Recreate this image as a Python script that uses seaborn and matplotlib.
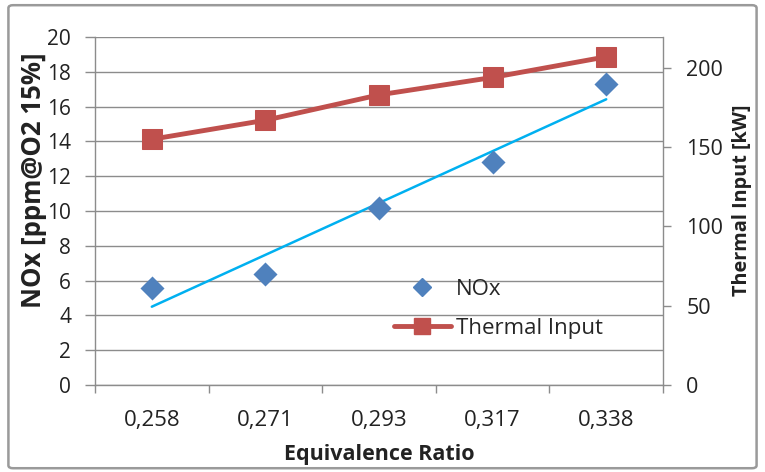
import numpy as np
import pandas as pd
import matplotlib
matplotlib.use("Agg")
import matplotlib.pyplot as plt
from matplotlib.patches import FancyBboxPatch
from matplotlib.lines import Line2D
import seaborn as sns

# Measured data
equivalence_ratio = ["0,258", "0,271", "0,293", "0,317", "0,338"]
nox_ppm = [5.6, 6.4, 10.2, 12.8, 17.3]
thermal_input_kw = [155, 167, 183, 194, 207]
left_ticks = [0, 2, 4, 6, 8, 10, 12, 14, 16, 18, 20]
right_ticks = [0, 50, 100, 150, 200]

sns.set_theme(style="white")
plt.rcParams["font.family"] = ["Open Sans", "DejaVu Sans"]

NOX_BLUE = "#4F81BD"
THERMAL_RED = "#C0504D"
TREND_CYAN = "#00B0F0"
GRID = "#8C8C8C"
TEXT = "#222222"

df = pd.DataFrame({
    "pos": np.arange(len(equivalence_ratio)),
    "ratio": equivalence_ratio,
    "nox": nox_ppm,
    "thermal": thermal_input_kw,
})

fig = plt.figure(figsize=(7.65, 4.72), dpi=100)
ax = fig.add_axes([0.1242, 0.1843, 0.7425, 0.7373])
ax2 = ax.twinx()

# Outer chart frame
frame = FancyBboxPatch((0.011, 0.008), 0.978, 0.981, boxstyle="round,pad=0,rounding_size=0.006",
                       transform=fig.transFigure, fill=False, edgecolor="#9A9A9A",
                       linewidth=1.8, zorder=0)
fig.patches.append(frame)

# NOx measurements and linear trend
sns.regplot(data=df, x="pos", y="nox", ax=ax, scatter=False, ci=None, truncate=True,
            line_kws=dict(color=TREND_CYAN, linewidth=1.8, zorder=3))
sns.scatterplot(data=df, x="pos", y="nox", ax=ax, marker="D", s=150, color=NOX_BLUE,
                edgecolor=NOX_BLUE, linewidth=0, zorder=4, legend=False)

# Thermal input on the secondary axis
sns.lineplot(data=df, x="pos", y="thermal", ax=ax2, color=THERMAL_RED, linewidth=3.5,
             marker="s", markersize=14, markeredgecolor=THERMAL_RED, zorder=5, legend=False)

ax.set_zorder(ax2.get_zorder() - 1)
ax2.patch.set_visible(False)

# Primary axis styling
ax.set_xlim(-0.5, len(equivalence_ratio) - 0.5)
ax.set_ylim(0, 20)
ax.set_yticks(left_ticks)
ax.set_yticklabels([str(t) for t in left_ticks], fontsize=15, color=TEXT)
ax.set_xticks(df["pos"])
ax.set_xticklabels(equivalence_ratio, fontsize=16, color=TEXT)
ax.tick_params(axis="x", length=0, pad=18)
ax.tick_params(axis="y", direction="out", length=7.2, width=1, color=GRID, pad=10, left=True)
ax.set_xticks(np.arange(-0.5, len(equivalence_ratio)), minor=True)
ax.tick_params(axis="x", which="minor", direction="out", length=6, width=1, color=GRID, bottom=True)
ax.grid(axis="y", color=GRID, linewidth=1)
ax.set_axisbelow(True)

for side in ["top", "right"]:
    ax.spines[side].set_visible(False)
for side in ["left", "bottom"]:
    ax.spines[side].set_color(GRID)
    ax.spines[side].set_linewidth(1)

ax.set_xlabel("Equivalence Ratio", fontsize=15.5, fontweight="bold", labelpad=9, color=TEXT)
ax.set_ylabel("NOx [ppm@O2 15%]", fontsize=18.5, fontweight="bold", color=TEXT)
ax.yaxis.set_label_coords(-0.085, 0.589)

# Secondary axis styling
ax2.set_ylim(0, 219.5)
ax2.set_yticks(right_ticks)
ax2.set_yticklabels([str(t) for t in right_ticks], fontsize=15.5, color=TEXT)
ax2.tick_params(axis="y", direction="out", length=5.8, width=1, color=GRID, pad=11, right=True)
ax2.grid(False)
for side in ["top", "left", "bottom"]:
    ax2.spines[side].set_visible(False)
ax2.spines["right"].set_color(GRID)
ax2.spines["right"].set_linewidth(1)
ax2.set_ylabel("Thermal Input [kW]", fontsize=14.3, fontweight="bold", color=TEXT)
ax2.yaxis.set_label_coords(1.121, 0.53)

# Legend
handles = [
    Line2D([], [], linestyle="none", marker="D", markersize=9, color=NOX_BLUE),
    Line2D([], [], color=THERMAL_RED, linewidth=3.5, marker="s", markersize=12),
]
ax2.legend(handles, ["NOx", "Thermal Input"], loc="upper left", bbox_to_anchor=(0.51, 0.33),
           frameon=False, fontsize=16, handlelength=2.6, handletextpad=0.2, labelspacing=0.8,
           borderaxespad=0)

fig.savefig("out.png", dpi=100)
